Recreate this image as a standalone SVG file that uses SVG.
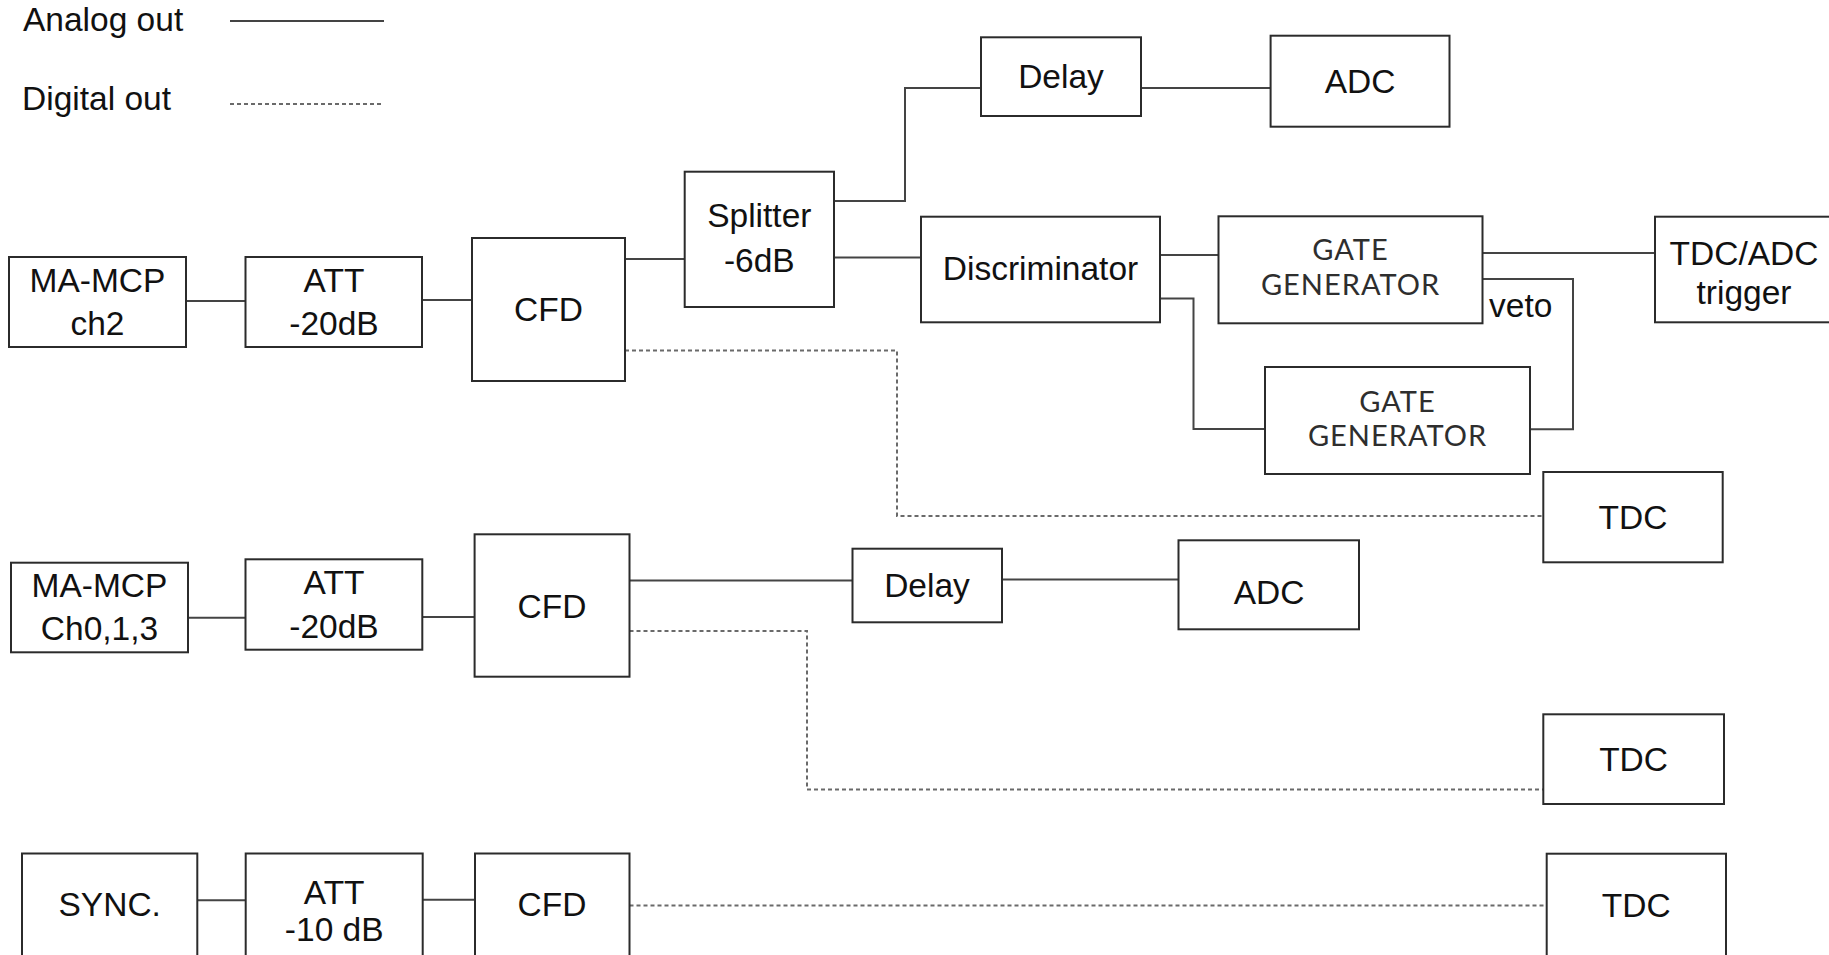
<svg xmlns="http://www.w3.org/2000/svg" width="1829" height="955" viewBox="0 0 1829 955">
  <style>
    .box { fill: #ffffff; stroke: #2b2b2b; stroke-width: 2; }
    .lbl { font-family: "Liberation Sans", Arial, sans-serif; font-size: 33.5px; fill: #111111; text-anchor: middle; }
    .lbl-left { font-family: "Liberation Sans", Arial, sans-serif; font-size: 33.5px; fill: #111111; }
    .gate { font-family: Lato, "Noto Sans", sans-serif; font-weight: 400; font-size: 29px; fill: #2e2e2e; text-anchor: middle; letter-spacing: 1px; }
    .analog { fill: none; stroke: #444444; stroke-width: 2; }
    .digital { fill: none; stroke: #6a6a6a; stroke-width: 2; stroke-dasharray: 4 3; }
  </style>
  <rect width="1829" height="955" fill="#ffffff"/>

  <!-- legend -->
  <g id="legend">
    <text class="lbl-left" x="23" y="31">Analog out</text>
    <line class="analog" x1="230" y1="21" x2="384" y2="21" stroke="#7a7a7a"/>
    <text class="lbl-left" x="22" y="110">Digital out</text>
    <line class="digital" x1="230" y1="104" x2="384" y2="104"/>
  </g>

  <!-- connectors -->
  <g id="connectors">
    <!-- ch2 chain -->
    <polyline class="analog" points="186,301 245.5,301"/>
    <polyline class="analog" points="422,300 472,300"/>
    <polyline class="analog" points="625,259 684.7,259"/>
    <polyline class="analog" points="834,201 905,201 905,88 981,88"/>
    <polyline class="analog" points="1141,88 1270.6,88"/>
    <polyline class="analog" points="834,257.5 921,257.5"/>
    <polyline class="analog" points="1160,255 1218.5,255"/>
    <polyline class="analog" points="1160,298.5 1193.5,298.5 1193.5,429 1265,429"/>
    <polyline class="analog" points="1530,429.3 1573,429.3 1573,279 1482.5,279"/>
    <polyline class="analog" points="1482.5,253 1655,253"/>
    <polyline class="digital" points="625,350.5 897,350.5 897,516 1543.3,516"/>
    <!-- ch0,1,3 chain -->
    <polyline class="analog" points="188,617.7 245.5,617.7"/>
    <polyline class="analog" points="422.3,617 474.6,617"/>
    <polyline class="analog" points="629.5,580.5 852.5,580.5"/>
    <polyline class="analog" points="1002,579.5 1178.5,579.5"/>
    <polyline class="digital" points="629.5,631 807,631 807,789.5 1543.3,789.5"/>
    <!-- sync chain -->
    <polyline class="analog" points="197.3,900.3 245.7,900.3"/>
    <polyline class="analog" points="422.7,899.7 475,899.7"/>
    <polyline class="digital" points="629.5,905.5 1546.7,905.5"/>
  </g>

  <!-- row 1: MA-MCP ch2 -->
  <g id="mcp-ch2">
    <rect class="box" x="9" y="257" width="177" height="90"/>
    <text class="lbl" x="97.5" y="291.7">MA-MCP</text>
    <text class="lbl" x="97.5" y="335">ch2</text>
  </g>
  <g id="att-1">
    <rect class="box" x="245.5" y="257" width="176.5" height="90"/>
    <text class="lbl" x="334" y="291.7">ATT</text>
    <text class="lbl" x="334" y="335">-20dB</text>
  </g>
  <g id="cfd-1">
    <rect class="box" x="472" y="238" width="153" height="143"/>
    <text class="lbl" x="548.5" y="321">CFD</text>
  </g>
  <g id="splitter">
    <rect class="box" x="684.7" y="171.7" width="149.3" height="135.3"/>
    <text class="lbl" x="759.3" y="227">Splitter</text>
    <text class="lbl" x="759.3" y="271.7">-6dB</text>
  </g>
  <g id="delay-1">
    <rect class="box" x="981" y="37.3" width="160" height="78.7"/>
    <text class="lbl" x="1061" y="88.3">Delay</text>
  </g>
  <g id="adc-1">
    <rect class="box" x="1270.6" y="35.7" width="178.9" height="91"/>
    <text class="lbl" x="1360" y="92.7">ADC</text>
  </g>
  <g id="discriminator">
    <rect class="box" x="921" y="216.7" width="239" height="105.6"/>
    <text class="lbl" x="1040.5" y="280">Discriminator</text>
  </g>
  <g id="gate-gen-1">
    <rect class="box" x="1218.5" y="216.3" width="264" height="107"/>
    <text class="gate" x="1350.5" y="260">GATE</text>
    <text class="gate" x="1350.5" y="295">GENERATOR</text>
  </g>
  <g id="gate-gen-2">
    <rect class="box" x="1265" y="367" width="265" height="107"/>
    <text class="gate" x="1397.5" y="411.7">GATE</text>
    <text class="gate" x="1397.5" y="446">GENERATOR</text>
  </g>
  <g id="veto-label">
    <text class="lbl-left" x="1489" y="317">veto</text>
  </g>
  <g id="trigger">
    <rect class="box" x="1655" y="216.7" width="178" height="105.6"/>
    <text class="lbl" x="1744" y="265">TDC/ADC</text>
    <text class="lbl" x="1744" y="304">trigger</text>
  </g>
  <g id="tdc-1">
    <rect class="box" x="1543.3" y="472" width="179.4" height="90.3"/>
    <text class="lbl" x="1633" y="529.3">TDC</text>
  </g>

  <!-- row 2: MA-MCP Ch0,1,3 -->
  <g id="mcp-ch013">
    <rect class="box" x="11" y="562.7" width="177" height="89.6"/>
    <text class="lbl" x="99.5" y="596.7">MA-MCP</text>
    <text class="lbl" x="99.5" y="640">Ch0,1,3</text>
  </g>
  <g id="att-2">
    <rect class="box" x="245.5" y="559.3" width="176.8" height="90.4"/>
    <text class="lbl" x="334" y="594">ATT</text>
    <text class="lbl" x="334" y="638.3">-20dB</text>
  </g>
  <g id="cfd-2">
    <rect class="box" x="474.6" y="534.3" width="154.9" height="142.4"/>
    <text class="lbl" x="552" y="617.5">CFD</text>
  </g>
  <g id="delay-2">
    <rect class="box" x="852.5" y="548.7" width="149.5" height="73.6"/>
    <text class="lbl" x="927" y="597">Delay</text>
  </g>
  <g id="adc-2">
    <rect class="box" x="1178.5" y="540.3" width="180.5" height="89"/>
    <text class="lbl" x="1269" y="604">ADC</text>
  </g>
  <g id="tdc-2">
    <rect class="box" x="1543.3" y="714.3" width="180.7" height="89.7"/>
    <text class="lbl" x="1633.6" y="771.3">TDC</text>
  </g>

  <!-- row 3: SYNC. -->
  <g id="sync">
    <rect class="box" x="22" y="853.5" width="175.3" height="120"/>
    <text class="lbl" x="109.7" y="916">SYNC.</text>
  </g>
  <g id="att-3">
    <rect class="box" x="245.7" y="853.5" width="177" height="120"/>
    <text class="lbl" x="334.2" y="904">ATT</text>
    <text class="lbl" x="334.2" y="941">-10 dB</text>
  </g>
  <g id="cfd-3">
    <rect class="box" x="475" y="853.5" width="154.5" height="120"/>
    <text class="lbl" x="552" y="916">CFD</text>
  </g>
  <g id="tdc-3">
    <rect class="box" x="1546.7" y="853.7" width="179.3" height="120"/>
    <text class="lbl" x="1636.3" y="916.7">TDC</text>
  </g>
</svg>
